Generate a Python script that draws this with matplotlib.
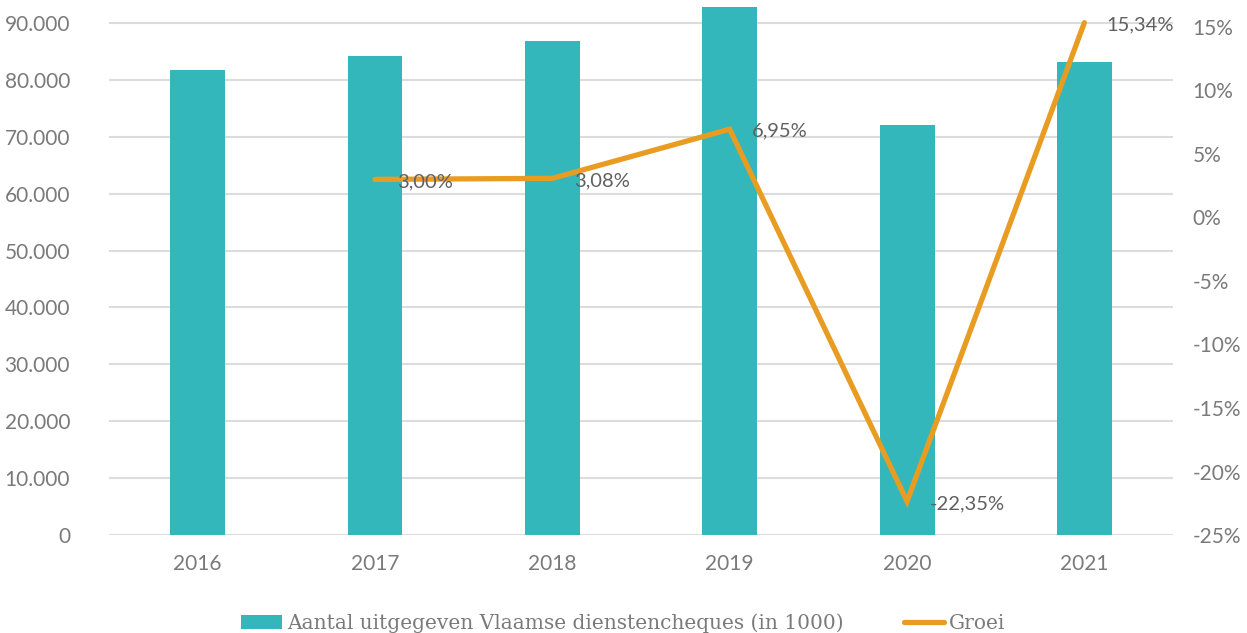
import matplotlib.pyplot as plt
from matplotlib.ticker import FuncFormatter

years = ["2016", "2017", "2018", "2019", "2020", "2021"]
cheques = [81700, 84150, 86750, 92780, 72050, 83110]  # x1000
growth_years = ["2017", "2018", "2019", "2020", "2021"]
growth = [3.00, 3.08, 6.95, -22.35, 15.34]  # %

TEAL = "#33b7bb"
ORANGE = "#e89c22"
GREY = "#7a7a7a"

plt.rcParams["font.family"] = ["Lato", "DejaVu Sans"]

fig = plt.figure(figsize=(12.47, 6.33), dpi=100)
ax = fig.add_axes([0.0874, 0.1548, 0.8533, 0.8373])
ax2 = ax.twinx()

x = list(range(len(years)))
bars = ax.bar(x, cheques, width=0.31, color=TEAL, zorder=2,
              label="Aantal uitgegeven Vlaamse dienstencheques (in 1000)")
ax.set_xlim(-0.5, len(years) - 0.5)
ax.set_ylim(0, 93150)
ax.set_yticks(range(0, 90001, 10000))
ax.yaxis.set_major_formatter(FuncFormatter(lambda v, p: f"{int(v):,}".replace(",", ".")))
ax.set_xticks(x)
ax.set_xticklabels(years)
ax.grid(axis="y", color="#dcdcdc", lw=1.5, zorder=0)
ax.set_axisbelow(True)

gx = [years.index(y) for y in growth_years]
line, = ax2.plot(gx, growth, color=ORANGE, lw=3.8, solid_capstyle="round",
                 solid_joinstyle="miter", label="Groei", zorder=3)
ax2.set_ylim(-25, 16.73)
ax2.set_yticks(range(-25, 16, 5))
ax2.yaxis.set_major_formatter(FuncFormatter(lambda v, p: f"{int(v)}%"))
for xi, g in zip(gx, growth):
    ax2.annotate(f"{g:.2f}%".replace(".", ","), (xi, g), xytext=(16, -1.5),
                 textcoords="offset points", ha="left", va="center",
                 fontsize=14.5, color="#606060")

for a in (ax, ax2):
    for s in a.spines.values():
        s.set_visible(False)
    a.tick_params(length=0, labelsize=15, labelcolor=GREY)
ax.tick_params(axis="y", pad=28)
ax.tick_params(axis="x", pad=14)
ax2.tick_params(axis="y", pad=14)

fig.legend(handles=[bars, line], loc="lower center", bbox_to_anchor=(0.5, -0.028),
           ncol=2, frameon=False, columnspacing=3.0, handlelength=2.0,
           handletextpad=0.25, prop={"family": ["DejaVu Serif"], "size": 14.5},
           labelcolor=GREY)

fig.savefig("out.png", dpi=100)
